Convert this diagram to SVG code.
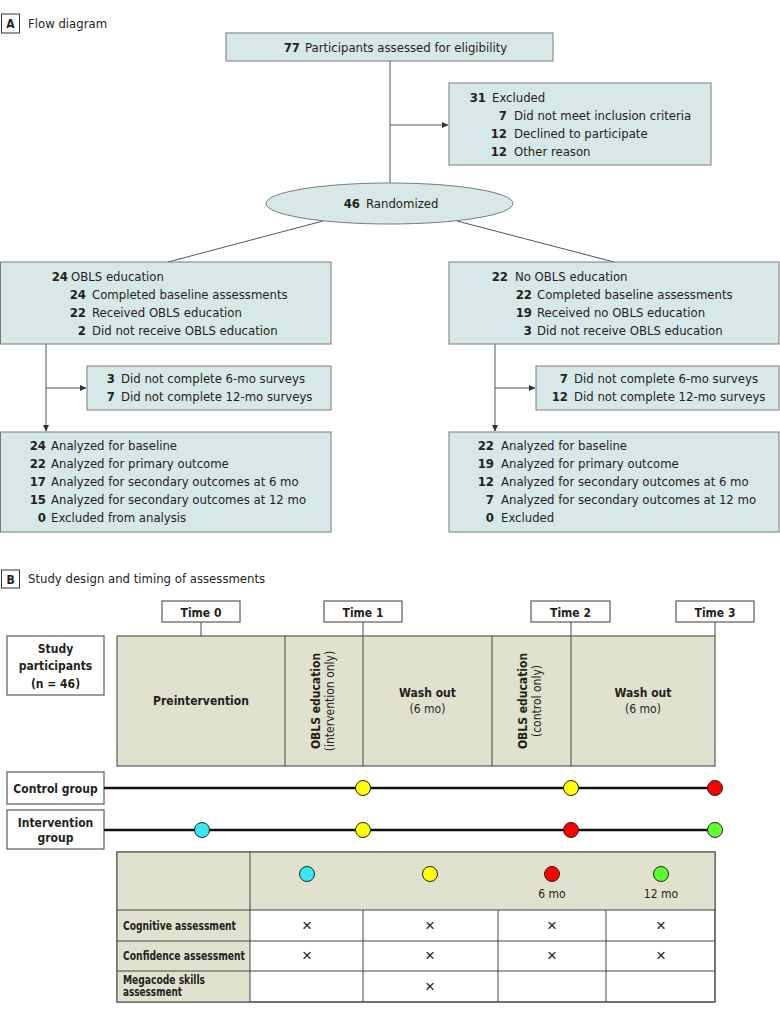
<svg xmlns="http://www.w3.org/2000/svg" width="780" height="1016" viewBox="0 0 780 1016">
<style>
text{font-family:"DejaVu Sans Condensed","Liberation Sans",Arial,sans-serif;font-stretch:condensed;fill:#231f20;font-size:13px}
.b{font-weight:bold}
.n{font-weight:bold;text-anchor:end}
.m{text-anchor:middle}
.s{font-size:12px}
.boxA{fill:#d7e8e8;stroke:#7a7a7a;stroke-width:1}
.boxB{fill:#e1e2cd;stroke:#5a5a5a;stroke-width:1.2}
.wbox{fill:#fff;stroke:#5a5a5a;stroke-width:1.2}
.conn{stroke:#555;stroke-width:1;fill:none}
.div{stroke:#444;stroke-width:1}
.tl{stroke:#111;stroke-width:2.5}
.dot{stroke:#222;stroke-width:1}
.rl{font-size:11.5px;font-weight:bold}
.x{font-size:17px;text-anchor:middle;font-family:"Liberation Sans",sans-serif}
</style>
<defs>
<marker id="ar" markerWidth="7" markerHeight="7" refX="6" refY="3.5" orient="auto" markerUnits="userSpaceOnUse">
<path d="M0,0.5 L6.5,3.5 L0,6.5 z" fill="#333"/>
</marker>
</defs>

<!-- Panel A header -->
<g id="labelA">
<rect x="1.5" y="14" width="18" height="19" fill="#fff" stroke="#333" stroke-width="1"/>
<text x="10.5" y="28" class="b m" style="font-size:12px">A</text>
<text x="28" y="28">Flow diagram</text>
</g>

<g id="connectors">
<line class="conn" x1="390" y1="61" x2="390" y2="183"/>
<line class="conn" x1="390" y1="125" x2="448" y2="125" marker-end="url(#ar)"/>
<line class="conn" x1="323" y1="221" x2="168" y2="262"/>
<line class="conn" x1="457" y1="221" x2="614" y2="262"/>
<line class="conn" x1="46" y1="344" x2="46" y2="431" marker-end="url(#ar)"/>
<line class="conn" x1="46" y1="388" x2="86" y2="388" marker-end="url(#ar)"/>
<line class="conn" x1="495" y1="344" x2="495" y2="431" marker-end="url(#ar)"/>
<line class="conn" x1="495" y1="388" x2="535" y2="388" marker-end="url(#ar)"/>
</g>

<g id="assessed">
<rect class="boxA" x="226" y="33" width="327" height="28"/>
<text x="300" y="52" class="n">77</text>
<text x="305" y="52">Participants assessed for eligibility</text>
</g>

<g id="excluded">
<rect class="boxA" x="449" y="83" width="262" height="82"/>
<text x="486" y="102" class="n">31</text><text x="492" y="102">Excluded</text>
<text x="507" y="120" class="n">7</text><text x="514" y="120">Did not meet inclusion criteria</text>
<text x="507" y="138" class="n">12</text><text x="514" y="138">Declined to participate</text>
<text x="507" y="156" class="n">12</text><text x="514" y="156">Other reason</text>
</g>

<g id="randomized">
<ellipse cx="389.5" cy="203.5" rx="123.5" ry="20.5" class="boxA"/>
<text x="360" y="208" class="n">46</text><text x="366" y="208">Randomized</text>
</g>

<g id="obls">
<rect class="boxA" x="0.5" y="262" width="330.5" height="82"/>
<text x="68" y="281" class="n">24</text><text x="71" y="281">OBLS education</text>
<text x="86" y="299" class="n">24</text><text x="92" y="299">Completed baseline assessments</text>
<text x="86" y="317" class="n">22</text><text x="92" y="317">Received OBLS education</text>
<text x="86" y="335" class="n">2</text><text x="92" y="335">Did not receive OBLS education</text>
</g>

<g id="obls-lost">
<rect class="boxA" x="87" y="366" width="244" height="44"/>
<text x="115" y="383" class="n">3</text><text x="121" y="383">Did not complete 6-mo surveys</text>
<text x="115" y="401" class="n">7</text><text x="121" y="401">Did not complete 12-mo surveys</text>
</g>

<g id="obls-analyzed">
<rect class="boxA" x="0.5" y="432" width="330.5" height="100"/>
<text x="46" y="450" class="n">24</text><text x="51" y="450">Analyzed for baseline</text>
<text x="46" y="468" class="n">22</text><text x="51" y="468">Analyzed for primary outcome</text>
<text x="46" y="486" class="n">17</text><text x="51" y="486">Analyzed for secondary outcomes at 6 mo</text>
<text x="46" y="504" class="n">15</text><text x="51" y="504">Analyzed for secondary outcomes at 12 mo</text>
<text x="46" y="522" class="n">0</text><text x="51" y="522">Excluded from analysis</text>
</g>

<g id="noobls">
<rect class="boxA" x="449" y="262" width="330" height="82"/>
<text x="508" y="281" class="n">22</text><text x="515" y="281">No OBLS education</text>
<text x="532" y="299" class="n">22</text><text x="537" y="299">Completed baseline assessments</text>
<text x="532" y="317" class="n">19</text><text x="537" y="317">Received no OBLS education</text>
<text x="532" y="335" class="n">3</text><text x="537" y="335">Did not receive OBLS education</text>
</g>

<g id="noobls-lost">
<rect class="boxA" x="536" y="366" width="243" height="44"/>
<text x="568" y="383" class="n">7</text><text x="574" y="383">Did not complete 6-mo surveys</text>
<text x="568" y="401" class="n">12</text><text x="574" y="401">Did not complete 12-mo surveys</text>
</g>

<g id="noobls-analyzed">
<rect class="boxA" x="449" y="432" width="330" height="100"/>
<text x="494" y="450" class="n">22</text><text x="501" y="450">Analyzed for baseline</text>
<text x="494" y="468" class="n">19</text><text x="501" y="468">Analyzed for primary outcome</text>
<text x="494" y="486" class="n">12</text><text x="501" y="486">Analyzed for secondary outcomes at 6 mo</text>
<text x="494" y="504" class="n">7</text><text x="501" y="504">Analyzed for secondary outcomes at 12 mo</text>
<text x="494" y="522" class="n">0</text><text x="501" y="522">Excluded</text>
</g>

<!-- Panel B -->
<g id="labelB">
<rect x="1.5" y="570" width="18" height="18" fill="#fff" stroke="#333" stroke-width="1"/>
<text x="10.5" y="584" class="b m" style="font-size:12px">B</text>
<text x="28" y="583">Study design and timing of assessments</text>
</g>

<g id="timeline-ticks">
<line class="div" x1="201" y1="622" x2="201" y2="636"/>
<line class="div" x1="363" y1="622" x2="363" y2="636"/>
<line class="div" x1="571" y1="622" x2="571" y2="636"/>
<line class="div" x1="715" y1="622" x2="715" y2="636"/>
</g>

<g id="time0"><rect class="wbox" x="162" y="601" width="78" height="21"/><text x="201" y="616.5" class="b m s">Time 0</text></g>
<g id="time1"><rect class="wbox" x="324" y="601" width="78" height="21"/><text x="363" y="616.5" class="b m s">Time 1</text></g>
<g id="time2"><rect class="wbox" x="531" y="601" width="79" height="21"/><text x="570.5" y="616.5" class="b m s">Time 2</text></g>
<g id="time3"><rect class="wbox" x="676" y="601" width="78" height="21"/><text x="715" y="616.5" class="b m s">Time 3</text></g>

<g id="phases">
<rect class="boxB" x="117" y="636" width="598" height="130"/>
<line class="div" x1="285" y1="636" x2="285" y2="766"/>
<line class="div" x1="363" y1="636" x2="363" y2="766"/>
<line class="div" x1="492" y1="636" x2="492" y2="766"/>
<line class="div" x1="571" y1="636" x2="571" y2="766"/>
<text x="201" y="705" class="b m s">Preintervention</text>
<text transform="translate(320,701) rotate(-90)" class="b m s">OBLS education</text>
<text transform="translate(334,701) rotate(-90)" class="m s">(intervention only)</text>
<text x="427.5" y="697" class="b m s">Wash out</text>
<text x="427.5" y="713" class="m s">(6 mo)</text>
<text transform="translate(527,701) rotate(-90)" class="b m s">OBLS education</text>
<text transform="translate(541,701) rotate(-90)" class="m s">(control only)</text>
<text x="643" y="697" class="b m s">Wash out</text>
<text x="643" y="713" class="m s">(6 mo)</text>
</g>

<g id="participants">
<rect class="wbox" x="7" y="636" width="97" height="59"/>
<text x="55.5" y="653" class="b m s">Study</text>
<text x="55.5" y="670" class="b m s">participants</text>
<text x="55.5" y="688" class="b m s">(n = 46)</text>
</g>

<g id="control">
<rect class="wbox" x="7" y="772" width="97" height="32"/>
<text x="55.5" y="792.5" class="b m s">Control group</text>
<line class="tl" x1="104" y1="788" x2="715" y2="788"/>
<circle class="dot" cx="363" cy="788" r="7.5" fill="#ffff00"/>
<circle class="dot" cx="571" cy="788" r="7.5" fill="#ffff00"/>
<circle class="dot" cx="715" cy="788" r="7.5" fill="#ff0000"/>
</g>

<g id="intervention">
<rect class="wbox" x="7" y="810" width="97" height="39"/>
<text x="55.5" y="827" class="b m s">Intervention</text>
<text x="55.5" y="842" class="b m s">group</text>
<line class="tl" x1="104" y1="830" x2="715" y2="830"/>
<circle class="dot" cx="202" cy="830" r="7.5" fill="#38e8f2"/>
<circle class="dot" cx="363" cy="830" r="7.5" fill="#ffff00"/>
<circle class="dot" cx="571" cy="830" r="7.5" fill="#ff0000"/>
<circle class="dot" cx="715" cy="830" r="7.5" fill="#5cff2a"/>
</g>

<g id="table">
<rect x="117" y="852" width="598" height="150" fill="#fff" stroke="#5a5a5a" stroke-width="1.2"/>
<rect x="117" y="852" width="598" height="58" fill="#e1e2cd"/>
<rect x="117" y="910" width="133" height="92" fill="#e1e2cd"/>
<rect x="117" y="852" width="598" height="150" fill="none" stroke="#5a5a5a" stroke-width="1.2"/>
<line class="div" x1="117" y1="910" x2="715" y2="910"/>
<line class="div" x1="117" y1="941" x2="715" y2="941"/>
<line class="div" x1="117" y1="971" x2="715" y2="971"/>
<line class="div" x1="250" y1="852" x2="250" y2="1002"/>
<line class="div" x1="363" y1="910" x2="363" y2="1002"/>
<line class="div" x1="498" y1="910" x2="498" y2="1002"/>
<line class="div" x1="606" y1="910" x2="606" y2="1002"/>
<circle class="dot" cx="307" cy="874" r="7.5" fill="#38e8f2"/>
<circle class="dot" cx="430" cy="874" r="7.5" fill="#ffff00"/>
<circle class="dot" cx="552" cy="874" r="7.5" fill="#ff0000"/>
<circle class="dot" cx="661" cy="874" r="7.5" fill="#5cff2a"/>
<text x="552" y="898" class="m" style="font-size:12px">6 mo</text>
<text x="661" y="898" class="m" style="font-size:12px">12 mo</text>
<text x="123" y="930" class="rl" textLength="113" lengthAdjust="spacingAndGlyphs">Cognitive assessment</text>
<text x="123" y="960" class="rl" textLength="122" lengthAdjust="spacingAndGlyphs">Confidence assessment</text>
<text x="123" y="984" class="rl" textLength="82" lengthAdjust="spacingAndGlyphs">Megacode skills</text>
<text x="123" y="996" class="rl" textLength="59" lengthAdjust="spacingAndGlyphs">assessment</text>
<text x="307" y="931" class="x">×</text>
<text x="430" y="931" class="x">×</text>
<text x="552" y="931" class="x">×</text>
<text x="661" y="931" class="x">×</text>
<text x="307" y="961" class="x">×</text>
<text x="430" y="961" class="x">×</text>
<text x="552" y="961" class="x">×</text>
<text x="661" y="961" class="x">×</text>
<text x="430" y="992" class="x">×</text>
</g>
</svg>
